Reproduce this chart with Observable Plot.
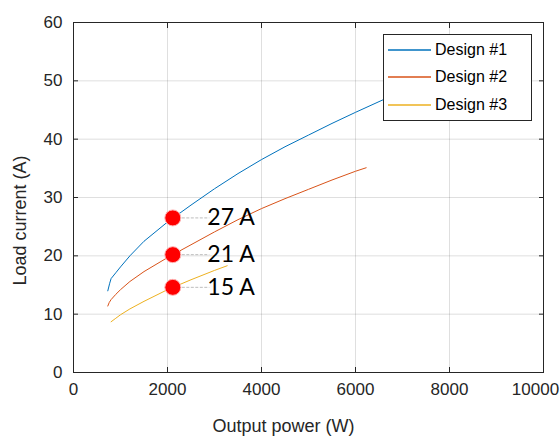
<!DOCTYPE html>
<html>
<head>
<meta charset="utf-8">
<script src="https://cdn.jsdelivr.net/npm/d3@7"></script>
<script src="https://cdn.jsdelivr.net/npm/@observablehq/plot@0.6"></script>
<style>
  html, body { margin: 0; padding: 0; background: #fff; }
  #wrap { position: relative; width: 560px; height: 439px; }
  #legend {
    position: absolute; left: 383px; top: 34px; width: 147px; height: 85px;
    border: 1px solid #262626; background: #fff;
    font-family: "Liberation Sans", Arial, sans-serif; font-size: 16px; color: #000;
  }
  .item { position: absolute; left: 4px; height: 20px; display: flex; align-items: center; }
  .item svg { margin-right: 4px; }
</style>
</head>
<body>
<div id="wrap"></div>
<script>
// ---- data ----
const seriesNames = ["Design #1", "Design #2", "Design #3"];
const seriesColors = ["#0072BD", "#D95319", "#EDB120"];

const d1Power   = [730, 770, 800, 900, 1000, 1200, 1500, 2000, 2500, 3000, 3500, 4000, 4500, 5000, 5500, 6000, 6600, 7000, 7500];
const d1Current = [14.0, 15.3, 16.1, 17.1, 18.1, 20.0, 22.5, 25.8, 28.7, 31.5, 34.1, 36.5, 38.7, 40.7, 42.7, 44.6, 46.8, 48.2, 49.9];

const d2Power   = [730, 760, 800, 900, 1000, 1200, 1500, 2000, 2500, 3000, 3500, 4000, 4500, 5000, 5500, 6000, 6227];
const d2Current = [11.4, 12.0, 12.5, 13.4, 14.2, 15.6, 17.3, 19.7, 21.9, 24.1, 26.2, 28.1, 29.8, 31.4, 33.0, 34.5, 35.1];

const d3Power   = [800, 900, 1000, 1200, 1500, 2000, 2500, 3000, 3270];
const d3Current = [8.7, 9.3, 9.9, 10.9, 12.2, 14.2, 15.9, 17.5, 18.3];

const markPower = [2113, 2113, 2113];
const markCurrent = [26.5, 20.2, 14.6];
const markLabels = ["27 A", "21 A", "15 A"];
const labelPower = [2890, 2890, 2890];

const xTicks = [0, 2000, 4000, 6000, 8000, 10000];
const yTicks = [0, 10, 20, 30, 40, 50, 60];
const xLabel = "Output power (W)";
const yLabel = "Load current (A)";

// ---- build tables ----
const lines = [];
[[d1Power, d1Current], [d2Power, d2Current], [d3Power, d3Current]].forEach(([p, c], i) => {
  p.forEach((v, j) => lines.push({ series: seriesNames[i], power: v, current: c[j] }));
});
const marks = markLabels.map((t, i) => ({ power: markPower[i], current: markCurrent[i], label: t, lx: labelPower[i] }));

const axisFont = "Liberation Sans, Arial, sans-serif";
const ink = "#262626";
const fmt = d3.format("d");
const xTicksInner = xTicks.slice(0, -1);
const xTicksLast = xTicks.slice(-1);

const chart = Plot.plot({
  width: 560,
  height: 439,
  marginLeft: 73,
  marginRight: 17,
  marginTop: 22,
  marginBottom: 67,
  style: { fontFamily: axisFont, background: "#fff", overflow: "visible" },
  x: { domain: [0, 10000] },
  y: { domain: [0, 60] },
  color: { domain: seriesNames, range: seriesColors },
  marks: [
    Plot.gridX(xTicks, { stroke: ink, strokeOpacity: 0.15 }),
    Plot.gridY(yTicks, { stroke: ink, strokeOpacity: 0.15 }),
    Plot.axisX(xTicksInner, { anchor: "bottom", tickSize: -5, tickPadding: 15, tickFormat: fmt, label: null, fontSize: 17, color: ink, stroke: ink }),
    Plot.axisX(xTicksLast, { anchor: "bottom", tickSize: -5, tickFormat: () => "", label: null, stroke: ink }),
    Plot.axisX(xTicksLast, { anchor: "bottom", tickSize: 0, tickPadding: 10, tickFormat: fmt, label: null, fontSize: 17, color: ink, dx: -8 }),
    Plot.axisX(xTicks, { anchor: "top", tickSize: -5, tickFormat: () => "", label: null, stroke: ink }),
    Plot.axisY(yTicks, { anchor: "left", tickSize: -5, tickPadding: 16, tickFormat: fmt, label: null, fontSize: 17, color: ink, stroke: ink }),
    Plot.axisY(yTicks, { anchor: "right", tickSize: -5, tickFormat: () => "", label: null, stroke: ink }),
    Plot.frame({ stroke: ink, strokeWidth: 1 }),
    Plot.line(lines, { x: "power", y: "current", z: "series", stroke: "series", strokeWidth: 1 }),
    Plot.link(marks, { x1: "power", x2: "lx", y1: "current", y2: "current", stroke: "#bdbdbd", strokeDasharray: "3,1.5", strokeWidth: 1 }),
    Plot.dot(marks, { x: "power", y: "current", r: 8, fill: "#ff0000", stroke: "#ffb3b3", strokeWidth: 1 }),
    Plot.text(marks, { x: "lx", y: "current", text: "label", textAnchor: "start", dx: -2, fontSize: 23, fontFamily: "Lato, 'Open Sans', sans-serif", fill: "#000" }),
    Plot.text([xLabel], { frameAnchor: "bottom", textAnchor: "middle", lineAnchor: "middle", dx: -25, dy: 54, fontSize: 18, fill: ink }),
    Plot.text([yLabel], { frameAnchor: "left", textAnchor: "middle", lineAnchor: "middle", dx: -53, dy: 23, rotate: -90, fontSize: 18, fill: ink })
  ]
});

const wrap = document.getElementById("wrap");
wrap.appendChild(chart);

// legend (HTML overlay)
const legend = document.createElement("div");
legend.id = "legend";
const tops = [5, 32, 60];
seriesNames.forEach((name, i) => {
  const item = document.createElement("div");
  item.className = "item";
  item.style.top = tops[i] + "px";
  item.innerHTML = `<svg width="43" height="4"><line x1="0" y1="2" x2="43" y2="2" stroke="${seriesColors[i]}" stroke-width="1.5"/></svg><span>${name}</span>`;
  legend.appendChild(item);
});
wrap.appendChild(legend);
</script>
</body>
</html>
